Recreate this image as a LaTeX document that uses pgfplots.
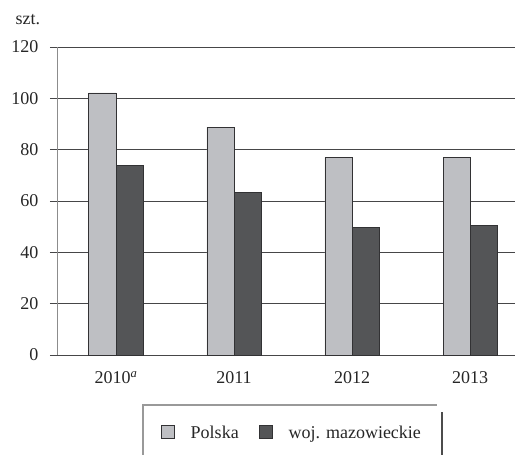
\documentclass[border=0pt]{standalone}
\usepackage{fontspec}
\setmainfont{Liberation Serif}
\usepackage{pgfplots}
\pgfplotsset{compat=1.18}

\definecolor{polska}{RGB}{190,191,195}
\definecolor{mazow}{RGB}{84,85,87}
\definecolor{edge}{RGB}{50,50,52}
\definecolor{gridc}{RGB}{70,70,72}

\begin{document}
\begin{tikzpicture}[font=\fontsize{18bp}{21bp}\selectfont]
\useasboundingbox (-57bp,-100bp) rectangle (458bp,355bp);
\begin{axis}[
    scale only axis,
    width=458bp, height=308bp,
    xmin=-0.5, xmax=3.38,
    ymin=0, ymax=120,
    ytick={0,20,...,120},
    xtick={0,1,2,3},
    xticklabels={2010\textsuperscript{\textit{a}},2011,2012,2013},
    axis x line*=bottom, axis y line*=left,
    x axis line style={draw=gridc, line width=1pt},
    y axis line style={draw=black!45, line width=0.6pt},
    ymajorgrids, grid style={draw=gridc, line width=1pt},
    ytick style={draw=gridc, line width=1pt},
    tick align=outside, major tick length=7bp,
    xtick style={draw=none},
    yticklabel style={xshift=-8bp, text=black!85},
    xticklabel style={yshift=-6bp, text=black!85},
    /pgf/number format/assume math mode=true,
    ybar=0pt, bar width=0.23,
    legend columns=2,
    legend style={draw=none, fill=none, at={(0.513,-0.253)}, anchor=center,
        text=black!85,
        /tikz/every even column/.append style={column sep=18bp}},
    legend image code/.code={\draw[#1] (0bp,-5bp) rectangle (13bp,8bp); \path (27bp,0bp);},
]
\addplot[fill=polska, draw=edge, line width=0.8pt] coordinates {(0,102.1) (1,88.8) (2,76.9) (3,77.1)};
\addlegendentry{Polska}
\addplot[fill=mazow, draw=edge, line width=0.8pt] coordinates {(0,74.0) (1,63.2) (2,49.6) (3,50.6)};
\addlegendentry{woj. mazowieckie}
\end{axis}
\node[anchor=base west, text=black!85] at (-45bp,330bp) {szt.};
\draw[black!40, line width=2.5pt] (86bp,-100bp) -- (86bp,-50bp) -- (380bp,-50bp);
\draw[black!70, line width=2.5pt] (385bp,-57bp) -- (385bp,-100bp);
\end{tikzpicture}
\end{document}
